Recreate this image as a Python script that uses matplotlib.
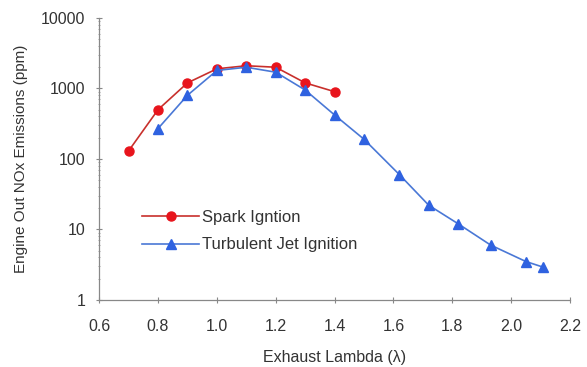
import matplotlib
matplotlib.use('Agg')
import matplotlib.pyplot as plt
from matplotlib.ticker import LogLocator, FixedLocator

plt.rcParams['font.family'] = ['Liberation Sans', 'DejaVu Sans']

# Spark ignition data
si_lambda = [0.70, 0.80, 0.90, 1.00, 1.10, 1.20, 1.30, 1.40]
si_nox = [130, 500, 1200, 1900, 2100, 2000, 1200, 900]

# Turbulent jet ignition data
tji_lambda = [0.80, 0.90, 1.00, 1.10, 1.20, 1.30, 1.40, 1.50, 1.62, 1.72, 1.82, 1.93, 2.05, 2.11]
tji_nox = [270, 800, 1800, 2000, 1700, 950, 420, 190, 60, 22, 12, 6, 3.5, 2.9]

x_ticks = [0.6, 0.8, 1.0, 1.2, 1.4, 1.6, 1.8, 2.0, 2.2]
y_ticks = [1, 10, 100, 1000, 10000]

fig = plt.figure(figsize=(5.87, 3.67), dpi=100)
ax = fig.add_axes([0.169, 0.183, 0.802, 0.768])

ax.plot(si_lambda, si_nox, color='#c8302c', marker='o', markersize=6.5,
        markerfacecolor='#e8141c', markeredgecolor='#e8141c', linewidth=1.2,
        label='Spark Igntion')
ax.plot(tji_lambda, tji_nox, color='#4a78d6', marker='^', markersize=7,
        markerfacecolor='#2f62e0', markeredgecolor='#2f62e0', linewidth=1.2,
        label='Turbulent Jet Ignition')

ax.set_yscale('log')
ax.set_xlim(0.6, 2.2)
ax.set_ylim(1, 10000)
ax.xaxis.set_major_locator(FixedLocator(x_ticks))
ax.yaxis.set_major_locator(FixedLocator(y_ticks))
ax.yaxis.set_minor_locator(LogLocator(base=10, subs=range(2, 10)))
ax.set_xticklabels(['%.1f' % v for v in x_ticks])
ax.set_yticklabels([str(v) for v in y_ticks])

for side in ['top', 'right']:
    ax.spines[side].set_visible(False)
for side in ['left', 'bottom']:
    ax.spines[side].set_color('#888888')
    ax.spines[side].set_linewidth(0.9)

ax.tick_params(axis='x', which='major', direction='inout', length=4,
               color='#888888', labelsize=11.5, labelcolor='#333333', pad=12)
ax.tick_params(axis='y', which='major', direction='inout', length=4,
               color='#888888', labelsize=11.5, labelcolor='#333333', pad=8)
ax.tick_params(axis='y', which='minor', direction='inout', length=2,
               color='#999999')

ax.set_xlabel('Exhaust Lambda (\u03bb)', fontsize=11.5, color='#333333', labelpad=11)
ax.set_ylabel('Engine Out NOx Emissions (ppm)', fontsize=11, color='#333333', labelpad=9)

ax.legend(loc='lower left', bbox_to_anchor=(0.06, 0.115), frameon=False,
          fontsize=12, handlelength=3.4, labelspacing=0.75, handletextpad=0.15,
          labelcolor='#333333')

fig.savefig('out.png', dpi=100, facecolor='white')
